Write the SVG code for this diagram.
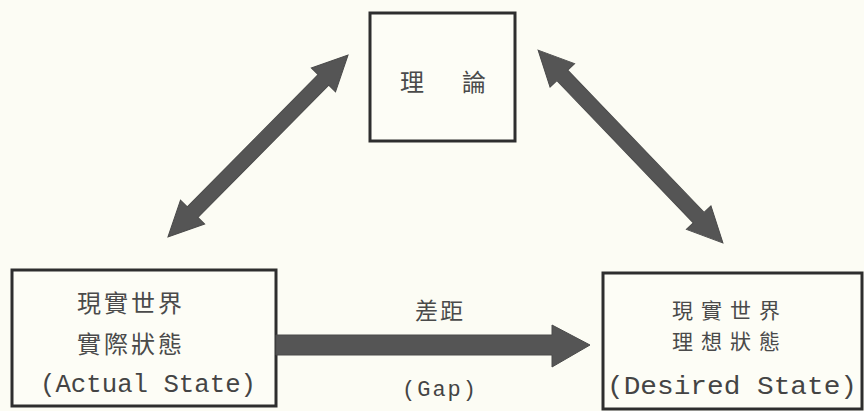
<svg xmlns="http://www.w3.org/2000/svg" width="864" height="411" viewBox="0 0 864 411">
<style>
.box{fill:#fdfdf6;stroke:#2e2e2e;stroke-width:3}
.arr{fill:#555;stroke:#4a4a4a;stroke-width:1}
.cjk{font-family:"Noto Sans CJK TC","Noto Sans CJK SC",sans-serif;fill:#4a4a4a;text-anchor:middle}
.mono{font-family:"Liberation Mono","DejaVu Sans Mono",monospace;fill:#444;text-anchor:middle}
</style>
<rect width="864" height="411" fill="#fcfcf4"/>
<g id="theory">
<rect class="box" x="370" y="13" width="145" height="128"/>
<text class="cjk" x="412" y="91" font-size="24">理</text>
<text class="cjk" x="474" y="91" font-size="24">論</text>
</g>
<g id="actual">
<rect class="box" x="12" y="270" width="264" height="136"/>
<text class="cjk" x="131" y="312" font-size="24" letter-spacing="3">現實世界</text>
<text class="cjk" x="131" y="353" font-size="24" letter-spacing="3">實際狀態</text>
<text class="mono" x="148" y="392" font-size="25" textLength="216" lengthAdjust="spacingAndGlyphs">(Actual State)</text>
</g>
<g id="desired">
<rect class="box" x="603" y="273" width="259" height="136"/>
<text class="cjk" x="730" y="318" font-size="21" letter-spacing="8">現實世界</text>
<text class="cjk" x="730" y="349" font-size="21" letter-spacing="8">理想狀態</text>
<text class="mono" x="732" y="394" font-size="26" textLength="250" lengthAdjust="spacingAndGlyphs">(Desired State)</text>
</g>
<g id="connectors">
<polygon class="arr" transform="translate(258,146) rotate(-45.3)" points="-128,0 -93,-17 -93,-7.5 93,-7.5 93,-17 128,0 93,17 93,7.5 -93,7.5 -93,17"/>
<polygon class="arr" transform="translate(630.5,146.5) rotate(46.2)" points="-133.5,0 -98.5,-17 -98.5,-7.5 98.5,-7.5 98.5,-17 133.5,0 98.5,17 98.5,7.5 -98.5,7.5 -98.5,17"/>
<polygon class="arr" points="276,335 552,335 552,325 590,345 552,367 552,355 276,355"/>
<text class="cjk" x="440" y="319" font-size="23" letter-spacing="2">差距</text>
<text class="mono" x="440" y="396" font-size="22" letter-spacing="2">(Gap)</text>
</g>
</svg>
